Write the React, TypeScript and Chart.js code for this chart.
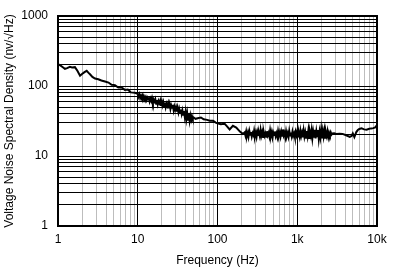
import React, { useEffect, useRef } from "react";
import { Chart, registerables } from "chart.js";

Chart.register(...registerables);

// 1 Hz – 10 Hz
const F_LOW = [
  1.0, 1.08, 1.15, 1.22, 1.3, 1.41, 1.5, 1.63, 1.75, 1.89,
  2.0, 2.15, 2.29, 2.4, 2.52, 2.7, 2.91, 3.2, 3.5, 3.88,
  4.3, 4.7, 5.18, 5.7, 6.2, 6.9, 7.5, 8.2, 9.2,
];
const N_LOW = [
  205, 195, 185, 176, 180, 188, 184, 186, 165, 140,
  148, 158, 165, 155, 147, 135, 128, 125, 120, 116,
  112, 104, 103, 95, 96, 88, 89, 81, 80,
];

// 10 Hz – 50 Hz (noisy band)
const F_BAND1 = [
  10, 10.2, 10.5, 10.7, 11.0, 11.2, 11.5, 11.7, 12.0, 12.3,
  12.6, 12.9, 13.2, 13.5, 13.8, 14.1, 14.5, 14.8, 15.1, 15.5,
  15.8, 16.2, 16.6, 17.0, 17.4, 17.8, 18.2, 18.6, 19.1, 19.5,
  20.0, 20.4, 20.9, 21.4, 21.9, 22.4, 22.9, 23.4, 24.0, 24.5,
  25.1, 25.7, 26.3, 26.9, 27.5, 28.2, 28.8, 29.5, 30.2, 30.9,
  31.6, 32.4, 33.1, 33.9, 34.7, 35.5, 36.3, 37.2, 38.0, 38.9,
  39.8, 40.7, 41.7, 42.7, 43.7, 44.7, 45.7, 46.8, 47.9, 49.0,
  50.1,
];
const N_BAND1 = [
  77, 70, 76, 68, 73, 69, 74, 65, 71, 66,
  70, 63, 68, 64, 69, 60, 66, 61, 67, 58,
  64, 60, 65, 56, 63, 55, 61, 57, 62, 52,
  60, 53, 59, 51, 58, 50, 56, 52, 57, 48,
  55, 47, 53, 49, 54, 45, 51, 46, 50, 43,
  49, 42, 47, 41, 46, 40, 45, 39, 44, 36,
  43, 34, 41, 33, 40, 32, 38, 33, 37, 34,
  35.5,
];

// 50 Hz – 210 Hz
const F_MID = [53, 58, 62, 67, 74, 80, 88, 95, 100, 110, 123, 130, 142, 156, 172, 191, 208];
const N_MID = [34, 35, 35.5, 33.5, 32.8, 32, 31.8, 30, 29.4, 28.5, 28.8, 27, 24, 27, 25.5, 22.3, 20.7];

// 220 Hz – 2.75 kHz (noisy band)
const F_BAND2 = [
  219, 224, 229, 234, 240, 245, 251, 257, 263, 269,
  275, 282, 288, 295, 302, 309, 316, 324, 331, 339,
  347, 355, 363, 372, 380, 389, 398, 407, 417, 427,
  437, 447, 457, 468, 479, 490, 501, 513, 525, 537,
  550, 562, 575, 589, 603, 617, 631, 646, 661, 676,
  692, 708, 724, 741, 759, 776, 794, 813, 832, 851,
  871, 891, 912, 933, 955, 977, 1000, 1023, 1047, 1072,
  1096, 1122, 1148, 1175, 1202, 1230, 1259, 1288, 1318, 1349,
  1380, 1413, 1445, 1479, 1514, 1549, 1585, 1622, 1660, 1698,
  1738, 1778, 1820, 1862, 1905, 1950, 1995, 2042, 2089, 2138,
  2188, 2239, 2291, 2344, 2399, 2455, 2512, 2570, 2630, 2692,
  2754,
];
const N_BAND2 = [
  21.8, 19.6, 22.4, 19.2, 21.5, 18.9, 22.8, 20.1, 22.0, 19.0,
  21.2, 19.8, 23.0, 19.3, 21.7, 18.8, 22.3, 20.0, 21.4, 19.1,
  23.5, 19.6, 21.9, 18.7, 22.1, 19.4, 21.0, 18.9, 22.6, 19.7,
  21.3, 19.0, 23.2, 19.5, 22.0, 18.6, 21.6, 19.9, 22.4, 19.2,
  21.1, 18.8, 22.7, 19.6, 21.8, 19.0, 22.2, 19.4, 24.0, 19.8,
  21.5, 18.7, 22.5, 19.3, 21.2, 18.9, 22.8, 19.6, 21.7, 19.1,
  22.3, 19.5, 21.0, 18.6, 22.1, 19.8, 22.6, 19.0, 21.4, 18.8,
  22.9, 19.3, 21.6, 18.5, 23.1, 19.0, 21.8, 18.3, 22.7, 19.2,
  23.4, 18.1, 22.0, 19.5, 23.6, 18.0, 22.4, 18.9, 23.8, 17.8,
  22.6, 19.1, 23.5, 17.6, 22.2, 18.6, 23.7, 17.9, 22.8, 19.0,
  23.2, 18.2, 21.9, 19.4, 22.6, 18.8, 21.4, 19.8, 21.8, 20.2,
  21.0,
];

// 2.9 kHz – 10 kHz
const F_HIGH = [2900, 3100, 3400, 3700, 4100, 4560, 4800, 4975, 5200, 5500, 5745, 6000, 6400, 6900, 7400, 8000, 8500, 9000, 9500, 10000];
const N_HIGH = [21.2, 20.7, 20.8, 20.7, 19.8, 18.8, 19.3, 21, 18.6, 22, 23.5, 24.3, 24.8, 24, 23.8, 24.5, 24.8, 25, 25.6, 27.6];

const FREQ_HZ = [...F_LOW, ...F_BAND1, ...F_MID, ...F_BAND2, ...F_HIGH];
const NOISE_NV = [...N_LOW, ...N_BAND1, ...N_MID, ...N_BAND2, ...N_HIGH];

const X_MAJOR = [1, 10, 100, 1000, 10000];
const X_LABELS = ["1", "10", "100", "1k", "10k"];
const Y_MAJOR = [1, 10, 100, 1000];
const Y_LABELS = ["1", "10", "100", "1000"];

const X_TITLE = "Frequency (Hz)";
const Y_TITLE = "Voltage Noise Spectral Density (nv/\u221AHz)";

function logTicks(min: number, max: number) {
  const out: { value: number }[] = [];
  for (let d = min; d < max; d *= 10) {
    for (let m = 1; m < 10; m++) out.push({ value: Math.round(d * m * 1000) / 1000 });
  }
  out.push({ value: max });
  return out;
}

const FONT = { family: "'Liberation Sans', Arial, sans-serif", size: 12, lineHeight: 1 };

const frame = {
  id: "frame",
  afterDraw(chart: any) {
    const { ctx, chartArea: a } = chart;
    ctx.save();
    ctx.strokeStyle = "#000";
    ctx.lineWidth = 2;
    ctx.strokeRect(a.left, a.top, a.right - a.left, a.bottom - a.top);
    ctx.restore();
  },
};

export default function App() {
  const ref = useRef<HTMLCanvasElement | null>(null);
  useEffect(() => {
    if (!ref.current) return;
    const n = Math.min(FREQ_HZ.length, NOISE_NV.length);
    const data = FREQ_HZ.slice(0, n).map((f, i) => ({ x: f, y: NOISE_NV[i] }));
    const chart = new Chart(ref.current, {
      type: "line",
      data: {
        datasets: [
          {
            data,
            borderColor: "#000",
            borderWidth: 2,
            pointRadius: 0,
            tension: 0,
            fill: false,
          },
        ],
      },
      plugins: [frame],
      options: {
        animation: false,
        responsive: false,
        maintainAspectRatio: false,
        layout: { padding: { top: 11, right: 29, left: 0, bottom: 0 } },
        plugins: { legend: { display: false }, tooltip: { enabled: false } },
        scales: {
          x: {
            type: "logarithmic",
            min: 1,
            max: 10000,
            afterBuildTicks: (s: any) => {
              s.ticks = logTicks(1, 10000);
            },
            afterFit: (s: any) => {
              s.height = 41;
            },
            border: { display: false },
            grid: {
              drawTicks: false,
              lineWidth: 1,
              color: (c: any) => (X_MAJOR.includes(c.tick?.value) ? "#000" : "#bdbdbd"),
            },
            ticks: {
              autoSkip: false,
              maxRotation: 0,
              padding: 8,
              color: "#000",
              font: FONT,
              callback: (v: any) => {
                const i = X_MAJOR.indexOf(Number(v));
                return i >= 0 ? X_LABELS[i] : "";
              },
            },
            title: {
              display: true,
              text: X_TITLE,
              color: "#000",
              font: FONT,
              padding: { top: 0, bottom: 0 },
            },
          },
          y: {
            type: "logarithmic",
            min: 1,
            max: 1000,
            afterBuildTicks: (s: any) => {
              s.ticks = logTicks(1, 1000);
            },
            afterFit: (s: any) => {
              s.width = 58;
            },
            border: { display: false },
            grid: {
              drawTicks: false,
              lineWidth: 1,
              color: "#000",
            },
            ticks: {
              autoSkip: false,
              padding: 10,
              color: "#000",
              font: FONT,
              callback: (v: any) => {
                const i = Y_MAJOR.indexOf(Number(v));
                return i >= 0 ? Y_LABELS[i] : "";
              },
            },
            title: {
              display: true,
              text: Y_TITLE,
              color: "#000",
              font: FONT,
              padding: { top: 4, bottom: 0 },
            },
          },
        },
      },
    });
    return () => chart.destroy();
  }, []);
  return (
    <div style={{ position: "absolute", left: 0, top: 0, width: 406, height: 267, background: "#fff" }}>
      <canvas ref={ref} width={406} height={267} style={{ display: "block" }} />
    </div>
  );
}
